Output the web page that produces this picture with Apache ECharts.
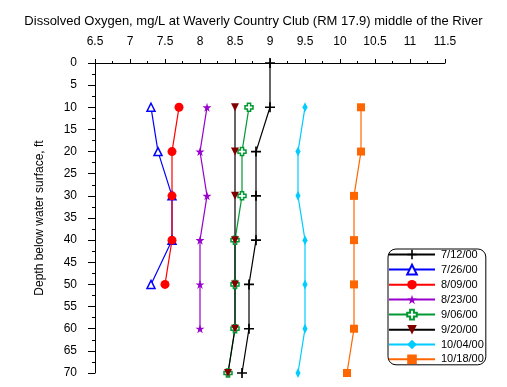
<!DOCTYPE html>
<html><head><meta charset="utf-8">
<script src="https://cdn.jsdelivr.net/npm/echarts@6/dist/echarts.min.js"></script>
<style>html,body{margin:0;padding:0;background:#fff}#c{width:507px;height:387px}</style>
</head><body><div id="c"></div>
<script>
var depths = [0, 10, 20, 30, 40, 50, 60, 70];
var dates = ['7/12/00', '7/26/00', '8/09/00', '8/23/00', '9/06/00', '9/20/00', '10/04/00', '10/18/00'];
var s0712 = [9.0, 9.0, 8.8, 8.8, 8.8, 8.7, 8.7, 8.6];
var s0726 = [null, 7.3, 7.4, 7.6, 7.6, 7.3, null, null];
var s0809 = [null, 7.7, 7.6, 7.6, 7.6, 7.5, null, null];
var s0823 = [null, 8.1, 8.0, 8.1, 8.0, 8.0, 8.0, null];
var s0906 = [null, 8.7, 8.6, 8.6, 8.5, 8.5, 8.5, 8.4];
var s0920 = [null, 8.5, 8.5, 8.5, 8.5, 8.5, 8.5, 8.4];
var s1004 = [null, 9.5, 9.4, 9.4, 9.5, 9.5, 9.5, 9.4];
var s1018 = [null, 10.3, 10.3, 10.2, 10.2, 10.2, 10.2, 10.1];
var xTicks = [6.5, 7, 7.5, 8, 8.5, 9, 9.5, 10, 10.5, 11, 11.5];
var yTicks = [0, 5, 10, 15, 20, 25, 30, 35, 40, 45, 50, 55, 60, 65, 70];

var allValues = [s0712, s0726, s0809, s0823, s0906, s0920, s1004, s1018];
var styles = [
  {line: '#000000', fill: '#000000', border: '#000000', symbol: 'path://M5,0H7V5H12V7H7V12H5V7H0V5H5Z', size: 10},
  {line: '#0000FF', fill: '#FFFFFF', border: '#0000FF', symbol: 'triangle', size: 8, bw: 1.5},
  {line: '#FF0000', fill: '#FF0000', border: '#FF0000', symbol: 'circle', size: 9},
  {line: '#9900CC', fill: '#9900CC', border: '#9900CC', symbol: 'path://M50,0L61,35H98L68,57L79,91L50,70L21,91L32,57L2,35H39Z', size: 9},
  {line: '#009933', fill: '#FFFFFF', border: '#009933', symbol: 'path://M3,0H7V3H10V7H7V10H3V7H0V3H3Z', size: 8, bw: 1.5},
  {line: '#000000', fill: '#800000', border: '#800000', symbol: 'path://M0,0H10L5,10Z', size: 8},
  {line: '#00CCFF', fill: '#00CCFF', border: '#00CCFF', symbol: 'diamond', size: [5, 10]},
  {line: '#FF6600', fill: '#FF6600', border: '#FF6600', symbol: 'rect', size: 8}
];

var series = allValues.map(function (vals, i) {
  var st = styles[i];
  var data = [];
  vals.forEach(function (v, k) { if (v !== null) data.push([v, depths[k]]); });
  return {
    name: dates[i], type: 'line', data: data,
    symbol: st.symbol, symbolSize: st.size, symbolKeepAspect: false,
    clip: false, animation: false,
    lineStyle: {color: st.line, width: 1.2},
    itemStyle: {color: st.fill, borderColor: st.border, borderWidth: st.bw || 0}
  };
});

var font = 'Liberation Sans, Arial, sans-serif';
var chart = echarts.init(document.getElementById('c'));
chart.setOption({
  backgroundColor: '#fff',
  animation: false,
  title: {text: 'Dissolved Oxygen, mg/L at Waverly Country Club (RM 17.9) middle of the River', left: 'center', top: 10,
    textStyle: {fontFamily: font, fontSize: 13, fontWeight: 'normal', color: '#000'}},
  grid: {left: 95, top: 63, width: 350, height: 310},
  xAxis: {type: 'value', position: 'top', min: xTicks[0], max: xTicks[xTicks.length - 1], interval: 0.5,
    axisLine: {lineStyle: {color: '#000', width: 1}},
    axisTick: {show: true, length: 4, lineStyle: {color: '#000'}},
    minorTick: {show: true, splitNumber: 2, length: 2, lineStyle: {color: '#000'}},
    splitLine: {show: false},
    axisLabel: {color: '#000', fontFamily: font, fontSize: 12, margin: 15}},
  yAxis: {type: 'value', inverse: true, min: yTicks[0], max: yTicks[yTicks.length - 1], interval: 5,
    name: 'Depth below water surface, ft', nameLocation: 'middle', nameGap: 49, nameRotate: 90,
    nameTextStyle: {fontFamily: font, fontSize: 12, color: '#000'},
    axisLine: {lineStyle: {color: '#000', width: 1}},
    axisTick: {show: true, length: 7, lineStyle: {color: '#000'}},
    minorTick: {show: true, splitNumber: 2, length: 3, lineStyle: {color: '#000'}},
    splitLine: {show: false},
    axisLabel: {color: '#000', fontFamily: font, fontSize: 12, margin: 18}},
  legend: {orient: 'vertical', left: 388, top: 249, itemWidth: 46, itemHeight: 12, itemGap: 3.8,
    padding: [0, 2, 0, 0], borderColor: '#000', borderWidth: 1, borderRadius: 8,
    textStyle: {fontFamily: font, fontSize: 11, color: '#000', padding: [0, 0, 0, 1]},
    data: dates},
  series: series
});
</script></body></html>
